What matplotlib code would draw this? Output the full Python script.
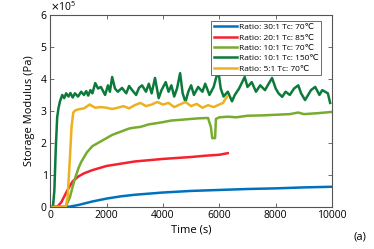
import matplotlib
matplotlib.use("Agg")
import matplotlib.pyplot as plt
from matplotlib.ticker import ScalarFormatter

plt.rcParams['font.family'] = ['Open Sans', 'DejaVu Sans']

# data (values in 1e5 Pa, x in s)

blue_x = [0, 500, 700, 1000, 1500, 2000, 2500, 3000, 4000, 5000, 6000, 7000, 8000, 9000, 10000]
blue_y = [0, 0, 0.01, 0.06, 0.17, 0.26, 0.33, 0.38, 0.45, 0.50, 0.53, 0.56, 0.58, 0.61, 0.63]

red_x = [0, 250, 400, 600, 800, 1000, 1200, 1500, 2000, 2500, 3000, 3500, 4000, 4500, 5000, 5500, 6000, 6300]
red_y = [0, 0, 0.15, 0.5, 0.8, 0.95, 1.05, 1.15, 1.28, 1.35, 1.42, 1.46, 1.5, 1.53, 1.56, 1.6, 1.63, 1.68]

lgreen_x = [0, 550, 700, 850, 1000, 1100, 1300, 1500, 1700, 2000, 2200, 2500, 2800, 3000, 3200, 3500,
            3800, 4000, 4300, 4600, 5000, 5300, 5600, 5700, 5750, 5850, 5880, 6000, 6300, 6600, 7000,
            7500, 8000, 8500, 8800, 9000, 9500, 10000]
lgreen_y = [0, 0, 0.3, 0.8, 1.2, 1.4, 1.7, 1.9, 2.0, 2.15, 2.25, 2.35, 2.45, 2.48, 2.5, 2.58,
            2.62, 2.65, 2.7, 2.72, 2.75, 2.77, 2.78, 2.5, 2.15, 2.15, 2.75, 2.8, 2.82, 2.8, 2.85,
            2.86, 2.88, 2.9, 2.95, 2.9, 2.93, 2.97]

dgreen_x = [0, 100, 150, 200, 250, 300, 350, 430, 500, 570, 650, 720, 800, 880, 990, 1100, 1200,
            1280, 1350, 1430, 1500, 1600, 1700, 1800, 1950, 2050, 2120, 2200, 2300, 2400, 2550, 2700,
            2800, 2900, 3050, 3150, 3260, 3400, 3500, 3600, 3720, 3850, 3950, 4100, 4200, 4300, 4400,
            4500, 4610, 4700, 4800, 4900, 5000, 5100, 5250, 5400, 5500, 5650, 5800, 5960, 6050, 6150,
            6300, 6450, 6550, 6700, 6900, 7000, 7150, 7300, 7450, 7620, 7750, 7870, 8000, 8100, 8230,
            8350, 8500, 8650, 8800, 8900, 9040, 9150, 9250, 9400, 9550, 9650, 9750, 9850, 9930]
dgreen_y = [0, 0, 0.5, 1.8, 2.8, 3.1, 3.3, 3.5, 3.4, 3.55, 3.45, 3.56, 3.42, 3.55, 3.45, 3.6, 3.5,
            3.62, 3.48, 3.65, 3.55, 3.87, 3.7, 3.75, 3.5, 3.8, 3.6, 4.06, 3.7, 3.6, 3.72, 3.55,
            3.78, 3.66, 3.5, 3.72, 3.8, 3.6, 3.85, 3.55, 4.03, 3.4, 3.65, 3.9, 3.6, 3.8, 3.45,
            3.7, 4.18, 3.55, 3.28, 3.6, 3.8, 3.5, 3.75, 3.6, 3.85, 3.5, 3.75, 4.28, 3.7, 3.45,
            3.6, 3.3, 3.5, 3.7, 4.06, 3.75, 3.9, 3.6, 3.8, 3.65, 3.85, 4.03, 3.7, 3.55, 3.44,
            3.6, 3.5, 3.7, 3.8, 3.55, 3.34, 3.5, 3.65, 3.75, 3.5, 3.65, 3.6, 3.55, 3.25]

yellow_x = [0, 550, 620, 700, 760, 820, 900, 1000, 1200, 1400, 1600, 1800, 2000, 2200, 2400, 2600,
            2800, 3000, 3200, 3400, 3600, 3800, 4000, 4200, 4400, 4600, 4800, 5000, 5200, 5400, 5600,
            5800, 6000, 6130, 6200, 6280]
yellow_y = [0, 0, 0.3, 1.5, 2.5, 2.95, 3.02, 3.05, 3.08, 3.2, 3.1, 3.12, 3.1, 3.06, 3.1, 3.15,
            3.08, 3.18, 3.25, 3.15, 3.2, 3.28, 3.2, 3.25, 3.12, 3.2, 3.28, 3.15, 3.22, 3.1, 3.18,
            3.12, 3.2, 3.25, 3.35, 3.45]

series = [
    (blue_x, blue_y, "#0072BD", "Ratio: 30:1 Tc: 70\u2103"),
    (red_x, red_y, "#F5212D", "Ratio: 20:1 Tc: 85\u2103"),
    (lgreen_x, lgreen_y, "#77AC30", "Ratio: 10:1 Tc: 70\u2103"),
    (dgreen_x, dgreen_y, "#0B7A3B", "Ratio: 10:1 Tc: 150\u2103"),
    (yellow_x, yellow_y, "#EDB120", "Ratio: 5:1 Tc: 70\u2103"),
]

fig = plt.figure(figsize=(3.74, 2.49), dpi=100)
ax = fig.add_axes([0.134, 0.169, 0.754, 0.771])

for xs, ys, col, lab in series:
    ax.plot(xs, [v * 1e5 for v in ys], color=col, lw=1.8, label=lab)

ax.set_xlim(0, 10000)
ax.set_ylim(0, 6e5)
ax.set_xticks([0, 2000, 4000, 6000, 8000, 10000])
ax.set_yticks([0, 1e5, 2e5, 3e5, 4e5, 5e5, 6e5])

fmt = ScalarFormatter(useMathText=True)
fmt.set_powerlimits((0, 0))
ax.yaxis.set_major_formatter(fmt)
ax.yaxis.get_offset_text().set_fontsize(7.5)

ax.tick_params(direction="in", top=True, right=True, labelsize=7.5, length=3,
               width=0.6, color="#555555", pad=2)
for sp in ax.spines.values():
    sp.set_color("#555555")
    sp.set_linewidth(0.8)

ax.set_xlabel("Time (s)", fontsize=8, labelpad=3)
ax.set_ylabel("Storage Modulus (Pa)", fontsize=8, labelpad=3)

leg = ax.legend(loc="upper right", fontsize=6, handlelength=2.8, handletextpad=0.2,
                borderpad=0.3, labelspacing=0.3, fancybox=False, framealpha=1,
                edgecolor="#555555", bbox_to_anchor=(0.975, 0.99))
leg.get_frame().set_linewidth(0.6)

fig.text(0.962, 0.048, "(a)", fontsize=8, ha="center", va="center")

fig.savefig("out.png", dpi=100)
